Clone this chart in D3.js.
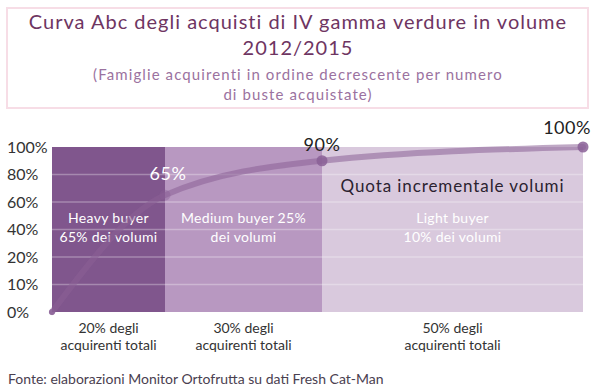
<!DOCTYPE html>
<html>
<head>
<meta charset="utf-8">
<script src="https://cdn.jsdelivr.net/npm/d3@7"></script>
<style>
  body { margin: 0; background: #fff; }
  svg { display: block; font-family: "Lato", "DejaVu Sans", sans-serif; }
</style>
</head>
<body>
<svg></svg>
<script>
// data
let yTicks = [0, 10, 20, 40, 60, 80, 100];
let bandStart = [0, 20, 50];
let bandEnd = [20, 50, 100];
let bandColors = ['#80568d', '#b898c1', '#d9c9dd'];
let bandText = [['Heavy buyer', '65% dei volumi'], ['Medium buyer 25%', 'dei volumi'], ['Light buyer', '10% dei volumi']];
let bandAxis = [['20% degli', 'acquirenti totali'], ['30% degli', 'acquirenti totali'], ['50% degli', 'acquirenti totali']];
let curveX = [0, 20, 50, 100];
let curveY = [0, 65, 90, 100];
let curveLabels = ['', '65%', '90%', '100%'];

let svgWidth = 600,
    svgHeight = 389;

let svg = d3.select('svg')
            .attr('width', svgWidth)
            .attr('height', svgHeight);

// title box
svg.append('rect')
   .attr('x', 7).attr('y', 8)
   .attr('width', 581).attr('height', 100)
   .attr('fill', 'none')
   .attr('stroke', '#f7dde6')
   .attr('stroke-width', 2);

let titles = [
  ['Curva Abc degli acquisti di IV gamma verdure in volume', 29, 20, '#6e3562', 1],
  ['2012/2015', 55, 20, '#6e3562', 1],
  ['(Famiglie acquirenti in ordine decrescente per numero', 80, 15, '#9b72a0', 1.1],
  ['di buste acquistate)', 100, 15, '#9b72a0', 1.1]
];
svg.selectAll('.title')
   .data(titles)
   .enter()
   .append('text')
   .attr('class', 'title')
   .attr('x', 298)
   .attr('y', d => d[1])
   .attr('text-anchor', 'middle')
   .attr('font-size', d => d[2])
   .attr('letter-spacing', d => d[4])
   .attr('fill', d => d[3])
   .text(d => d[0]);

// scales (y is evenly spaced between uneven tick values)
let xScale = d3.scaleLinear()
               .domain([0, 20, 50, 100])
               .range([52, 165, 322, 583]);

let yScale = d3.scaleLinear()
               .domain(yTicks)
               .range(yTicks.map((d, i) => 312 - i * 27.5));

// bands
svg.selectAll('.band')
   .data(bandStart)
   .enter()
   .append('rect')
   .attr('class', 'band')
   .attr('x', d => xScale(d))
   .attr('y', yScale(100))
   .attr('width', (d, i) => xScale(bandEnd[i]) - xScale(d))
   .attr('height', yScale(0) - yScale(100))
   .attr('fill', (d, i) => bandColors[i]);

// grid lines
svg.selectAll('.grid')
   .data(yTicks.slice(1, -1))
   .enter()
   .append('line')
   .attr('class', 'grid')
   .attr('x1', xScale(0))
   .attr('x2', xScale(100))
   .attr('y1', d => yScale(d))
   .attr('y2', d => yScale(d))
   .attr('stroke', '#fff')
   .attr('stroke-opacity', 0.3)
   .attr('stroke-width', 1.5);

// y axis
let yAxis = d3.axisLeft(yScale)
              .tickValues(yTicks)
              .tickFormat(d => d + '%')
              .tickSize(0);
let gy = svg.append('g')
            .attr('transform', 'translate(46,0)')
            .call(yAxis);
gy.select('.domain').remove();
gy.selectAll('text')
  .attr('x', -39)
  .attr('text-anchor', 'start')
  .attr('font-size', 16)
  .attr('font-family', 'Lato, sans-serif')
  .attr('fill', '#333');

// band texts
bandText.forEach((lines, i) => {
  let cx = (xScale(bandStart[i]) + xScale(bandEnd[i])) / 2;
  lines.forEach((t, j) => {
    svg.append('text')
       .attr('x', cx)
       .attr('y', 223 + j * 19)
       .attr('text-anchor', 'middle')
       .attr('font-size', 14)
       .attr('letter-spacing', 0.3)
       .attr('fill', '#fff')
       .text(t);
  });
  bandAxis[i].forEach((t, j) => {
    svg.append('text')
       .attr('x', cx)
       .attr('y', 333 + j * 17)
       .attr('text-anchor', 'middle')
       .attr('font-size', 14)
       .attr('fill', '#333')
       .text(t);
  });
});

svg.append('text')
   .attr('x', (xScale(50) + xScale(100)) / 2)
   .attr('y', 192)
   .attr('text-anchor', 'middle')
   .attr('font-size', 17)
   .attr('letter-spacing', 0.9)
   .attr('fill', '#2b2230')
   .text('Quota incrementale volumi');

// curve
let pts = curveX.map((d, i) => [xScale(d), yScale(curveY[i])]);
let line = d3.line().curve(d3.curveMonotoneX);
svg.append('path')
   .attr('d', line(pts))
   .attr('fill', 'none')
   .attr('stroke', '#8a6096')
   .attr('stroke-opacity', 0.55)
   .attr('stroke-width', 6)
   .attr('stroke-linecap', 'round');

svg.selectAll('.dot')
   .data(pts)
   .enter()
   .append('circle')
   .attr('class', 'dot')
   .attr('cx', d => d[0])
   .attr('cy', d => d[1])
   .attr('r', (d, i) => i == 0 ? 3 : 5.5)
   .attr('fill', '#8a6096')
   .attr('fill-opacity', (d, i) => i == 1 ? 0.4 : 0.85);

// point labels
let labelPos = [null, [168, 180, '#fff'], [322, 151, '#222'], [567, 134, '#222']];
curveLabels.forEach((t, i) => {
  if (!t) return;
  svg.append('text')
     .attr('x', labelPos[i][0])
     .attr('y', labelPos[i][1])
     .attr('text-anchor', 'middle')
     .attr('font-size', 18)
     .attr('letter-spacing', 0.5)
     .attr('fill', labelPos[i][2])
     .text(t);
});

// source
svg.append('text')
   .attr('x', 8)
   .attr('y', 384)
   .attr('font-size', 14)
   .attr('fill', '#4a4050')
   .text('Fonte: elaborazioni Monitor Ortofrutta su dati Fresh Cat-Man');
</script>
</body>
</html>
